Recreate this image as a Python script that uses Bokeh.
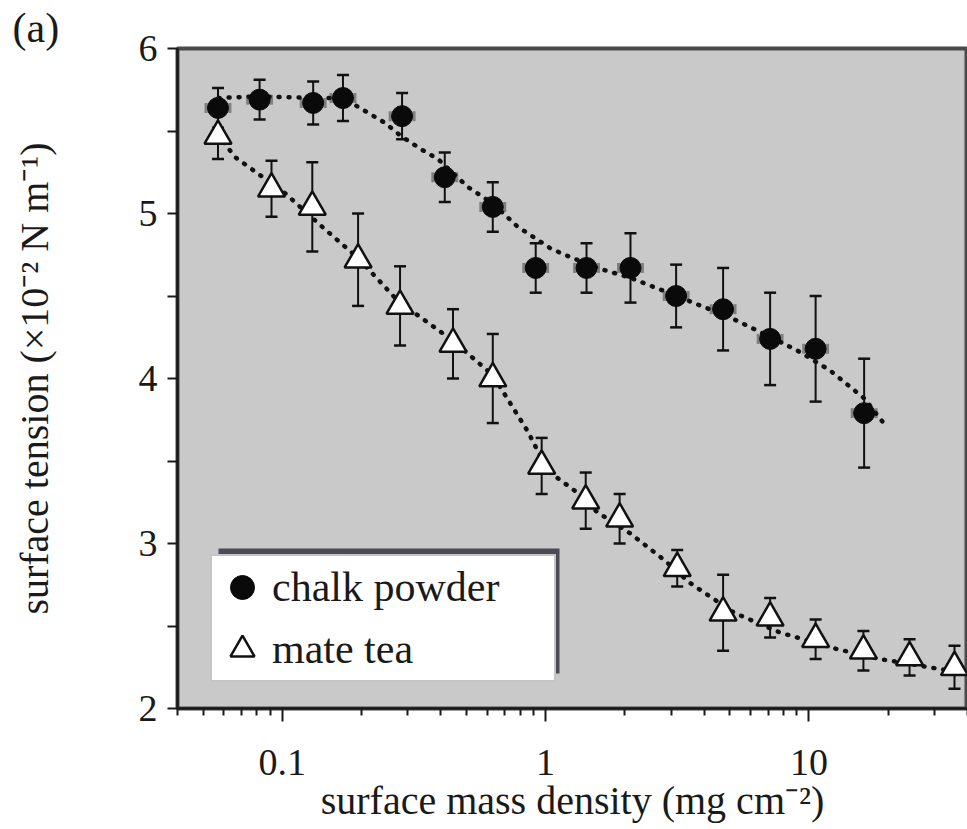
from bokeh.plotting import figure
from bokeh.models import (ColumnDataSource, Whisker, TeeHead, FixedTicker, NumeralTickFormatter,
                          Range1d, Legend, LegendItem, BoxAnnotation, Title)
from bokeh.embed import file_html
from bokeh.resources import INLINE

# ---- data ----
chalk_x = [0.057, 0.082, 0.131, 0.170, 0.285, 0.414, 0.630, 0.917, 1.43, 2.10, 3.13, 4.72, 7.12, 10.6, 16.2]
chalk_y = [5.64, 5.69, 5.67, 5.70, 5.59, 5.22, 5.04, 4.67, 4.67, 4.67, 4.50, 4.42, 4.24, 4.18, 3.79]
chalk_err = [0.12, 0.12, 0.13, 0.14, 0.14, 0.15, 0.15, 0.15, 0.15, 0.21, 0.19, 0.25, 0.28, 0.32, 0.33]

mate_x = [0.057, 0.091, 0.130, 0.194, 0.280, 0.445, 0.630, 0.966, 1.42, 1.91, 3.16, 4.72, 7.12, 10.6, 16.1, 24.1, 35.7]
mate_y = [5.47, 5.15, 5.04, 4.72, 4.44, 4.21, 4.00, 3.47, 3.26, 3.15, 2.85, 2.58, 2.55, 2.42, 2.35, 2.31, 2.25]
mate_err = [0.14, 0.17, 0.27, 0.28, 0.24, 0.21, 0.27, 0.17, 0.17, 0.15, 0.11, 0.23, 0.12, 0.12, 0.12, 0.11, 0.13]

chalk_fit_x = [0.0573, 0.0818, 0.131, 0.170, 0.212, 0.245, 0.282, 0.336, 0.390, 0.507, 0.630, 0.783,
               1.04, 1.18, 1.57, 2.10, 2.82, 3.76, 5.02, 6.76, 9.02, 12.0, 16.2, 19.2]
chalk_fit_y = [5.70, 5.71, 5.70, 5.70, 5.61, 5.55, 5.47, 5.39, 5.33, 5.16, 5.06, 4.92,
               4.79, 4.75, 4.67, 4.61, 4.53, 4.45, 4.37, 4.27, 4.17, 4.05, 3.88, 3.73]

mate_fit_x = [0.0567, 0.0664, 0.0811, 0.103, 0.137, 0.167, 0.194, 0.275, 0.444, 0.630, 0.855, 1.02,
              1.29, 1.57, 2.10, 2.82, 3.54, 5.20, 7.77, 12.8, 18.6, 28.7, 40.0]
mate_fit_y = [5.48, 5.34, 5.24, 5.12, 4.94, 4.82, 4.73, 4.47, 4.23, 4.02, 3.68, 3.44,
              3.32, 3.19, 3.06, 2.90, 2.76, 2.58, 2.46, 2.36, 2.30, 2.25, 2.21]

x_major = [0.1, 1, 10]
x_minor = [0.04, 0.05, 0.06, 0.07, 0.08, 0.09, 0.2, 0.3, 0.4, 0.5, 0.6, 0.7, 0.8, 0.9,
           2, 3, 4, 5, 6, 7, 8, 9, 20, 30, 40]
y_major = [2, 3, 4, 5, 6]
y_minor = [2.5, 3.5, 4.5, 5.5]

FONT = "Liberation Serif"

chalk_src = ColumnDataSource(dict(
    x=chalk_x, y=chalk_y,
    lo=[a - b for a, b in zip(chalk_y, chalk_err)],
    hi=[a + b for a, b in zip(chalk_y, chalk_err)],
    xlo=[a / 1.11 for a in chalk_x],
    xhi=[a * 1.11 for a in chalk_x],
))
mate_src = ColumnDataSource(dict(
    x=mate_x, y=mate_y,
    lo=[a - b for a, b in zip(mate_y, mate_err)],
    hi=[a + b for a, b in zip(mate_y, mate_err)],
))

p = figure(width=967, height=829, x_axis_type="log",
           x_range=Range1d(0.04, 40), y_range=Range1d(2, 6),
           output_backend="svg", toolbar_location=None,
           min_border_left=177, min_border_right=0, min_border_top=48, min_border_bottom=121)

p.background_fill_color = "#c9c9c9"
p.border_fill_color = "white"
p.outline_line_color = "#4a4a4a"
p.outline_line_width = 4
p.xgrid.visible = False
p.ygrid.visible = False

# panel tag
p.add_layout(Title(text="(a)", align="left", offset=-165, standoff=-4,
                   text_font=FONT, text_font_size="42px", text_font_style="normal",
                   text_color="#1a1a1a"), "above")

# x axis
xa = p.xaxis[0]
xa.ticker = FixedTicker(ticks=x_major, minor_ticks=x_minor)
xa.formatter = NumeralTickFormatter(format="0.[0]")
xa.axis_label = "surface mass density (mg cm\u207b\u00b2)"
# y axis
ya = p.yaxis[0]
ya.ticker = FixedTicker(ticks=y_major, minor_ticks=y_minor)
ya.axis_label = "surface tension (\u00d710\u207b\u00b2 N m\u207b\u00b9)"

for ax in (xa, ya):
    ax.axis_line_color = "#1a1a1a"
    ax.axis_line_width = 2.5
    ax.major_tick_line_color = "#1a1a1a"
    ax.minor_tick_line_color = "#1a1a1a"
    ax.major_tick_line_width = 2
    ax.minor_tick_line_width = 2
    ax.major_tick_in = 0
    ax.minor_tick_in = 0
    ax.major_label_text_font = FONT
    ax.major_label_text_font_size = "38px"
    ax.major_label_text_color = "#1a1a1a"
    ax.axis_label_text_font = FONT
    ax.axis_label_text_font_size = "40px"
    ax.axis_label_text_font_style = "normal"
    ax.axis_label_text_color = "#1a1a1a"

xa.major_tick_out = 13
xa.minor_tick_out = 7
xa.major_label_standoff = 28
xa.axis_label_standoff = 0
ya.major_tick_out = 10
ya.minor_tick_out = 10
ya.major_label_standoff = 10
ya.axis_label_standoff = 79

# fitted dotted curves
p.line(chalk_fit_x, chalk_fit_y, line_color="#111111", line_width=4.5, line_dash="1 9", line_cap="round")
p.line(mate_fit_x, mate_fit_y, line_color="#111111", line_width=4.5, line_dash="1 9", line_cap="round")

# horizontal (grey) error bars for chalk
p.add_layout(Whisker(source=chalk_src, base="y", lower="xlo", upper="xhi", dimension="width",
                     line_color="#7f7f7f", line_width=5,
                     lower_head=TeeHead(size=10, line_color="#7f7f7f", line_width=3),
                     upper_head=TeeHead(size=10, line_color="#7f7f7f", line_width=3)))
# vertical error bars
for src in (chalk_src, mate_src):
    p.add_layout(Whisker(source=src, base="x", lower="lo", upper="hi", dimension="height",
                         line_color="#111111", line_width=2,
                         lower_head=TeeHead(size=12, line_color="#111111", line_width=2.5),
                         upper_head=TeeHead(size=12, line_color="#111111", line_width=2.5)))

chalk_r = p.scatter("x", "y", source=chalk_src, marker="circle", size=21,
                    fill_color="#0a0a0a", line_color="#0a0a0a", line_width=1)
mate_r = p.scatter("x", "y", source=mate_src, marker="triangle", size=27,
                   fill_color="white", line_color="#111111", line_width=2.5)

# legend shadow + legend
p.add_layout(BoxAnnotation(left=41, right=382, top=160, bottom=35,
                           left_units="screen", right_units="screen",
                           top_units="screen", bottom_units="screen",
                           fill_color="#4b4b55", fill_alpha=1.0, line_color=None))
legend = Legend(items=[LegendItem(label="chalk powder", renderers=[chalk_r]),
                       LegendItem(label="mate tea", renderers=[mate_r])],
                location=(33, 26), padding=0, spacing=0, margin=0,
                glyph_width=60, glyph_height=62, label_standoff=0, label_width=282,
                label_text_font=FONT, label_text_font_size="42px", label_text_color="#1a1a1a",
                background_fill_color="white", background_fill_alpha=1.0,
                border_line_color="#8a8a8a", border_line_width=2)
p.add_layout(legend, "center")

open("out.html", "w").write(file_html(p, INLINE))
